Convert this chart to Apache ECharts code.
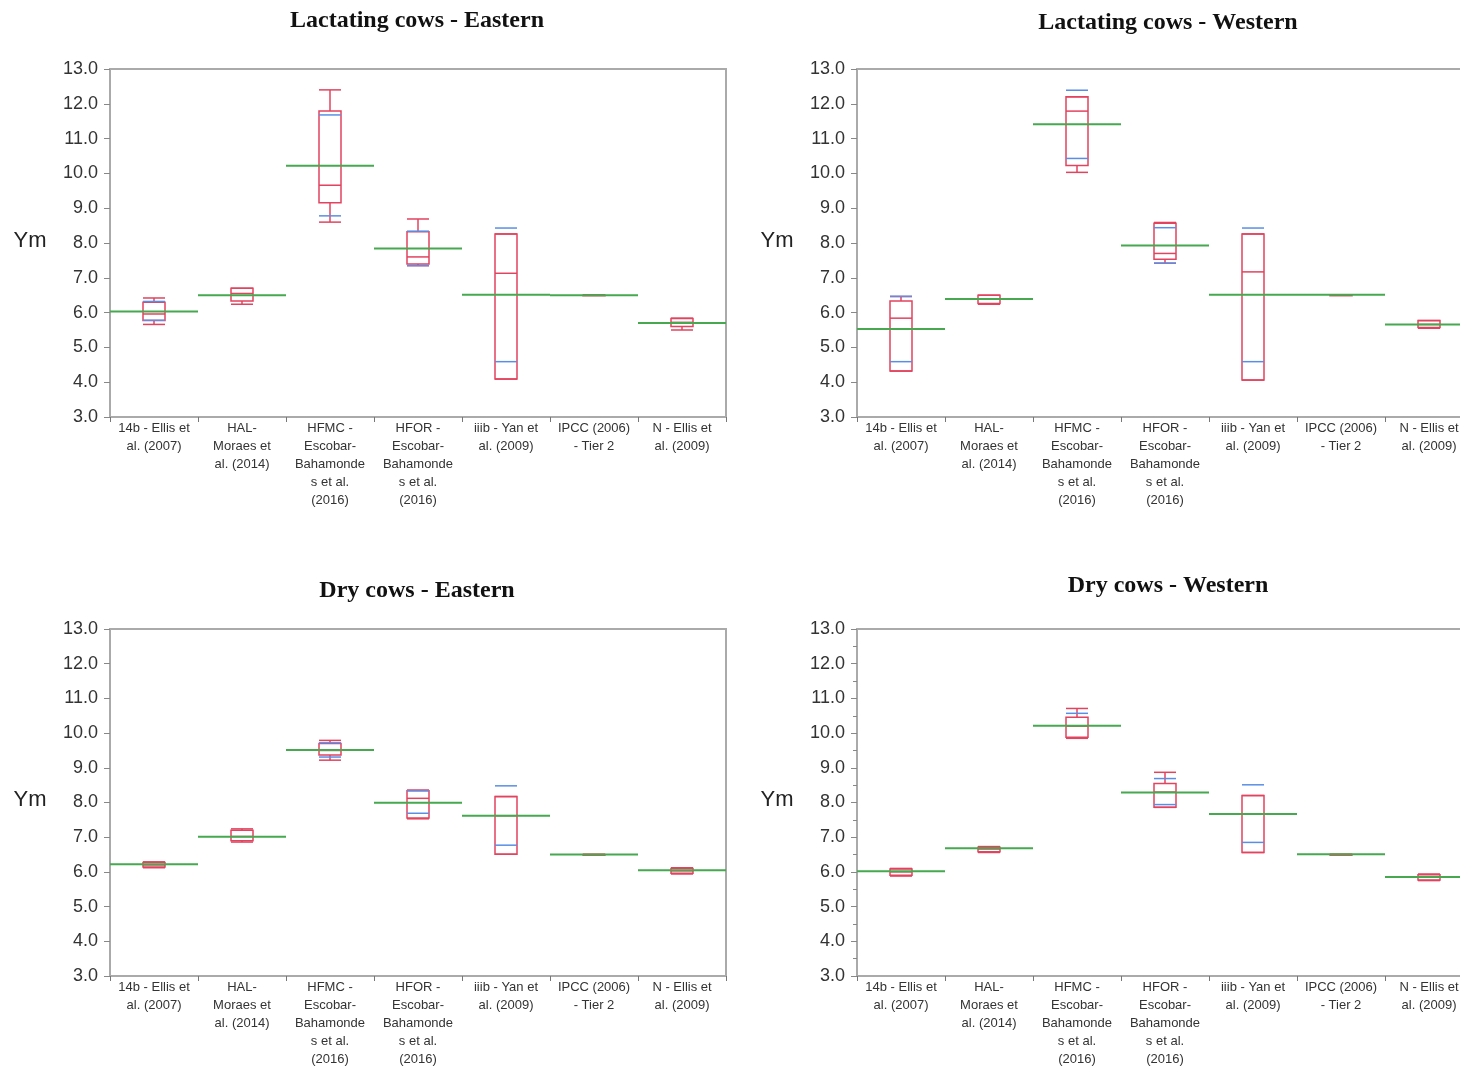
<!DOCTYPE html>
<html>
<head>
<meta charset="utf-8">
<script src="https://cdn.jsdelivr.net/npm/echarts@6/dist/echarts.min.js"></script>
<style>html,body{margin:0;padding:0;background:#fff}#c{width:1460px;height:1069px}</style>
</head>
<body>
<div id="c"></div>
<script>
// ---------- data ----------
const categories = [
  "14b - Ellis et\nal. (2007)",
  "HAL-\nMoraes et\nal. (2014)",
  "HFMC -\nEscobar-\nBahamonde\ns et al.\n(2016)",
  "HFOR -\nEscobar-\nBahamonde\ns et al.\n(2016)",
  "iiib - Yan et\nal. (2009)",
  "IPCC (2006)\n- Tier 2",
  "N - Ellis et\nal. (2009)"
];
const yTicks = [3,4,5,6,7,8,9,10,11,12,13];
const panelTitles = ["Lactating cows - Eastern","Lactating cows - Western","Dry cows - Eastern","Dry cows - Western"];

// box: [whiskerLow, q1, median, q3, whiskerHigh]
const lactEastBox = [[5.66,5.77,5.96,6.30,6.42],[6.24,6.33,6.55,6.70,6.70],[8.60,9.16,9.66,11.79,12.40],[7.35,7.40,7.60,8.32,8.69],[4.09,4.09,7.13,8.26,8.26],[6.50,6.50,6.50,6.50,6.50],[5.50,5.60,5.72,5.83,5.84]];
const lactEastBlue = [[5.78,6.32],[null,null],[8.78,11.68],[7.35,8.34],[4.59,8.43],[null,null],[null,null]];
const lactEastMean = [6.03,6.50,10.22,7.84,6.51,6.50,5.70];

const lactWestBox = [[4.32,4.32,5.84,6.33,6.46],[6.24,6.26,6.39,6.50,6.50],[10.03,10.23,11.79,12.20,12.20],[7.42,7.53,7.70,8.57,8.59],[4.06,4.06,7.17,8.26,8.26],[6.50,6.50,6.50,6.50,6.50],[5.55,5.57,5.66,5.77,5.77]];
const lactWestBlue = [[4.59,6.47],[null,null],[10.43,12.39],[7.42,8.44],[4.59,8.43],[null,null],[null,null]];
const lactWestMean = [5.53,6.39,11.41,7.93,6.51,6.51,5.66];

const dryEastBox = [[6.12,6.14,6.20,6.27,6.29],[6.86,6.90,7.02,7.20,7.24],[9.22,9.37,9.50,9.70,9.79],[7.53,7.55,8.12,8.34,8.36],[6.51,6.51,7.62,8.17,8.17],[6.50,6.50,6.50,6.50,6.50],[5.94,5.96,6.03,6.10,6.12]];
const dryEastBlue = [[null,null],[null,null],[9.31,9.72],[7.69,8.34],[6.77,8.48],[null,null],[null,null]];
const dryEastMean = [6.22,7.01,9.51,7.99,7.62,6.50,6.05];

const dryWestBox = [[5.88,5.90,6.00,6.08,6.10],[6.56,6.58,6.66,6.71,6.73],[9.85,9.88,10.20,10.46,10.71],[7.86,7.86,8.30,8.55,8.87],[6.56,6.56,7.67,8.20,8.20],[6.50,6.50,6.50,6.50,6.50],[5.75,5.77,5.85,5.92,5.94]];
const dryWestBlue = [[null,null],[null,null],[null,10.57],[7.94,8.69],[6.85,8.51],[null,null],[null,null]];
const dryWestMean = [6.02,6.68,10.21,8.29,7.67,6.51,5.85];

const panels = [
  {box: lactEastBox, blue: lactEastBlue, mean: lactEastMean},
  {box: lactWestBox, blue: lactWestBlue, mean: lactWestMean},
  {box: dryEastBox, blue: dryEastBlue, mean: dryEastMean},
  {box: dryWestBox, blue: dryWestBlue, mean: dryWestMean}
];

// ---------- layout / style ----------
const RED = '#e2435e', BLUE = '#5a8ee6', GREEN = '#46a84f';
const grids = [
  {left:110, top:69, width:616, height:348},
  {left:857, top:69, width:616, height:348},
  {left:110, top:629, width:616, height:347},
  {left:857, top:629, width:616, height:347}
];
const titlePos = [[417,21],[1168,23],[417,591],[1168,586]];
const ymPos = [[30,241],[777,241],[30,800],[777,800]];

function makeRender(p) {
  return function(params, api) {
    const i = params.dataIndex;
    const b = p.box[i];
    const bl = p.blue[i];
    const x = api.coord([i, 3])[0];
    const band = api.size([1, 0])[0];
    const hw = 11;
    const Y = v => api.coord([i, v])[1];
    const ln = (x1,y1,x2,y2,color,w) => ({type:'line', shape:{x1,y1,x2,y2}, style:{stroke:color, lineWidth:w||1.5}});
    const ch = [];
    ch.push(ln(x, Y(b[0]), x, Y(b[1]), RED));
    ch.push(ln(x, Y(b[3]), x, Y(b[4]), RED));
    ch.push(ln(x-hw, Y(b[0]), x+hw, Y(b[0]), RED));
    ch.push(ln(x-hw, Y(b[4]), x+hw, Y(b[4]), RED));
    ch.push({type:'rect', shape:{x:x-hw, y:Y(b[3]), width:2*hw, height:Math.max(Y(b[1])-Y(b[3]),0.5)}, style:{stroke:RED, fill:'none', lineWidth:1.5}});
    ch.push(ln(x-hw, Y(b[2]), x+hw, Y(b[2]), RED));
    bl.forEach(v => { if (v != null) ch.push(ln(x-hw, Y(v), x+hw, Y(v), BLUE, 1.5)); });
    const ym = Y(p.mean[i]);
    ch.push(ln(x-band/2, ym, x+band/2, ym, GREEN, 2));
    return {type:'group', children: ch};
  };
}

const option = {
  animation: false,
  backgroundColor: '#fff',
  graphic: panelTitles.map((t,k) => ({
    type:'text', x: titlePos[k][0], y: titlePos[k][1],
    style:{text:t, fontFamily:'Liberation Serif', fontWeight:'bold', fontSize:24, fill:'#111', align:'center', verticalAlign:'middle'}
  })).concat(ymPos.map(p => ({
    type:'text', x: p[0], y: p[1],
    style:{text:'Ym', fontFamily:'Liberation Sans', fontSize:22, fill:'#222', align:'center', verticalAlign:'middle'}
  }))),
  grid: grids.map(g => Object.assign({show:true, borderColor:'#aaa', borderWidth:2, backgroundColor:'#fff', outerBoundsMode:'none', containLabel:false}, g)),
  xAxis: grids.map((g,k) => ({
    type:'category', gridIndex:k, data: categories, boundaryGap:true,
    axisLine:{lineStyle:{color:'#aaa', width:2}},
    axisTick:{show:true, length:5, lineStyle:{color:'#777'}},
    axisLabel:{interval:0, fontFamily:'Liberation Sans', fontSize:13, lineHeight:18, color:'#333', margin:2},
    splitLine:{show:false}
  })),
  yAxis: grids.map((g,k) => ({
    type:'value', gridIndex:k, min: yTicks[0], max: yTicks[yTicks.length-1], interval:1,
    axisLine:{show:true, lineStyle:{color:'#aaa', width:2}},
    axisTick:{show:true, length:6, lineStyle:{color:'#888'}},
    minorTick:{show: k===3, splitNumber:2, length:4, lineStyle:{color:'#888'}},
    axisLabel:{fontFamily:'Liberation Sans', fontSize:18, color:'#333', margin:12, formatter: v => v.toFixed(1)},
    splitLine:{show:false}
  })),
  series: panels.map((p,k) => ({
    type:'custom', xAxisIndex:k, yAxisIndex:k, clip:false,
    data: p.mean.map((m,i) => [i, m]),
    renderItem: makeRender(p)
  }))
};
const chart = echarts.init(document.getElementById('c'), null, {renderer:'canvas'});
chart.setOption(option);
</script>
</body>
</html>
